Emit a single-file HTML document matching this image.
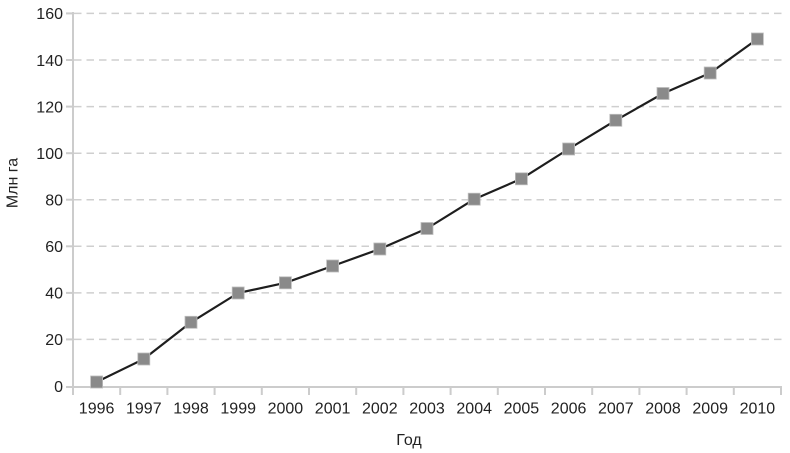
<!DOCTYPE html>
<html>
<head>
<meta charset="utf-8">
<style>
  html, body { margin:0; padding:0; background:#fff; }
  svg { display:block; }
  text { font-family: "Liberation Sans", "Noto Sans CJK SC", sans-serif; fill:#222; }
</style>
</head>
<body>
<svg width="790" height="453" viewBox="0 0 790 453" xmlns="http://www.w3.org/2000/svg">
  <!-- gridlines -->
  <g stroke="#cfcfcf" stroke-width="1.5" stroke-dasharray="7.5,5">
    <line x1="74" y1="339.4" x2="783" y2="339.4"/>
    <line x1="74" y1="292.9" x2="783" y2="292.9"/>
    <line x1="74" y1="246.3" x2="783" y2="246.3"/>
    <line x1="74" y1="199.7" x2="783" y2="199.7"/>
    <line x1="74" y1="153.2" x2="783" y2="153.2"/>
    <line x1="74" y1="106.6" x2="783" y2="106.6"/>
    <line x1="74" y1="60.0" x2="783" y2="60.0"/>
    <line x1="74" y1="13.4" x2="783" y2="13.4"/>
  </g>
  <!-- axes -->
  <g stroke="#cccccc" stroke-width="2" fill="none">
    <line x1="73" y1="12" x2="73" y2="395"/>
    <line x1="66" y1="387" x2="782" y2="387"/>
    <!-- y ticks -->
    <line x1="66" y1="339.4" x2="73" y2="339.4"/>
    <line x1="66" y1="292.9" x2="73" y2="292.9"/>
    <line x1="66" y1="246.3" x2="73" y2="246.3"/>
    <line x1="66" y1="199.7" x2="73" y2="199.7"/>
    <line x1="66" y1="153.2" x2="73" y2="153.2"/>
    <line x1="66" y1="106.6" x2="73" y2="106.6"/>
    <line x1="66" y1="60.0" x2="73" y2="60.0"/>
    <line x1="66" y1="13.4" x2="73" y2="13.4"/>
    <!-- x ticks -->
    <line x1="120.2" y1="387" x2="120.2" y2="395"/>
    <line x1="167.4" y1="387" x2="167.4" y2="395"/>
    <line x1="214.6" y1="387" x2="214.6" y2="395"/>
    <line x1="261.8" y1="387" x2="261.8" y2="395"/>
    <line x1="309.0" y1="387" x2="309.0" y2="395"/>
    <line x1="356.2" y1="387" x2="356.2" y2="395"/>
    <line x1="403.4" y1="387" x2="403.4" y2="395"/>
    <line x1="450.6" y1="387" x2="450.6" y2="395"/>
    <line x1="497.8" y1="387" x2="497.8" y2="395"/>
    <line x1="545.0" y1="387" x2="545.0" y2="395"/>
    <line x1="592.2" y1="387" x2="592.2" y2="395"/>
    <line x1="639.4" y1="387" x2="639.4" y2="395"/>
    <line x1="686.6" y1="387" x2="686.6" y2="395"/>
    <line x1="733.8" y1="387" x2="733.8" y2="395"/>
    <line x1="781" y1="387" x2="781" y2="395"/>
  </g>
  <!-- y tick labels -->
  <g font-size="16" text-anchor="end">
    <text x="63" y="391.8">0</text>
    <text x="63" y="345.2">20</text>
    <text x="63" y="298.7">40</text>
    <text x="63" y="252.1">60</text>
    <text x="63" y="205.5">80</text>
    <text x="63" y="159.0">100</text>
    <text x="63" y="112.4">120</text>
    <text x="63" y="65.8">140</text>
    <text x="63" y="19.2">160</text>
  </g>
  <!-- x tick labels -->
  <g font-size="16" text-anchor="middle">
    <text x="96.6" y="413.5">1996</text>
    <text x="143.8" y="413.5">1997</text>
    <text x="191.0" y="413.5">1998</text>
    <text x="238.2" y="413.5">1999</text>
    <text x="285.4" y="413.5">2000</text>
    <text x="332.6" y="413.5">2001</text>
    <text x="379.8" y="413.5">2002</text>
    <text x="427.0" y="413.5">2003</text>
    <text x="474.2" y="413.5">2004</text>
    <text x="521.4" y="413.5">2005</text>
    <text x="568.6" y="413.5">2006</text>
    <text x="615.8" y="413.5">2007</text>
    <text x="663.0" y="413.5">2008</text>
    <text x="710.2" y="413.5">2009</text>
    <text x="757.4" y="413.5">2010</text>
  </g>
  <!-- axis titles -->
  <text x="409" y="445" font-size="16" text-anchor="middle">Год</text>
  <text x="0" y="0" font-size="16" text-anchor="middle" transform="translate(17.5,183) rotate(-90)">Млн га</text>
  <!-- series line -->
  <polyline fill="none" stroke="#1e1e1e" stroke-width="2.2" stroke-linejoin="round"
    points="96.6,382.0 143.8,359.0 191.0,322.3 238.2,293.0 285.4,282.8 332.6,266.0 379.8,249.0 427.0,228.5 474.2,199.2 521.4,178.8 568.6,149.0 615.8,120.3 663.0,93.5 710.2,73.0 757.4,39.0"/>
  <!-- markers -->
  <g fill="#8a8a8a" stroke="#bdbdbd" stroke-width="0.8">
    <rect x="90.6" y="376.0" width="12" height="12"/>
    <rect x="137.8" y="353.0" width="12" height="12"/>
    <rect x="185.0" y="316.3" width="12" height="12"/>
    <rect x="232.2" y="287.0" width="12" height="12"/>
    <rect x="279.4" y="276.8" width="12" height="12"/>
    <rect x="326.6" y="260.0" width="12" height="12"/>
    <rect x="373.8" y="243.0" width="12" height="12"/>
    <rect x="421.0" y="222.5" width="12" height="12"/>
    <rect x="468.2" y="193.2" width="12" height="12"/>
    <rect x="515.4" y="172.8" width="12" height="12"/>
    <rect x="562.6" y="143.0" width="12" height="12"/>
    <rect x="609.8" y="114.3" width="12" height="12"/>
    <rect x="657.0" y="87.5" width="12" height="12"/>
    <rect x="704.2" y="67.0" width="12" height="12"/>
    <rect x="751.4" y="33.0" width="12" height="12"/>
  </g>
</svg>
</body>
</html>
